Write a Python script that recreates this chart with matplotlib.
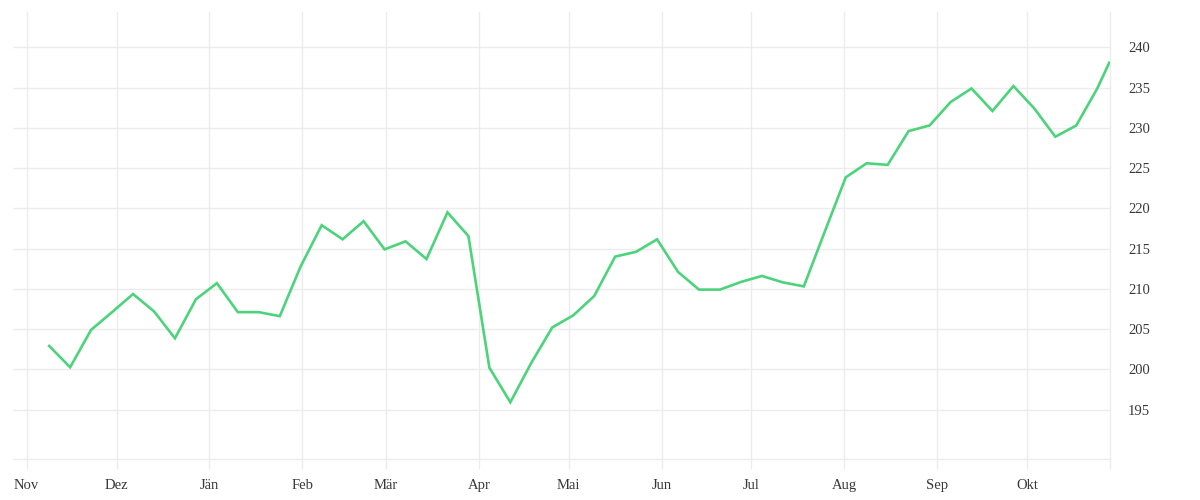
import matplotlib
matplotlib.use("Agg")
import matplotlib.pyplot as plt
import matplotlib.dates as mdates
import pandas as pd

# ---- data ----
dates = list(pd.date_range("2022-11-08 12:00", periods=51, freq="7D")) + [pd.Timestamp("2023-10-28 12:00")]
values = [
    202.9, 200.25, 204.9, 207.1, 209.35, 207.2, 203.85, 208.7, 210.7, 207.1,
    207.1, 206.6, 212.8, 217.9, 216.15, 218.4, 214.9, 215.9, 213.7, 219.5,
    216.55, 200.2, 195.9, 200.8, 205.2, 206.7, 209.1, 214.0, 214.6, 216.15,
    212.1, 209.9, 209.9, 210.85, 211.6, 210.8, 210.3, 217.1, 223.85, 225.6,
    225.4, 229.6, 230.3, 233.2, 234.9, 232.1, 235.2, 232.4, 228.9, 230.3,
    234.9, 238.1,
]
month_ticks = pd.date_range("2022-11-01", "2023-10-01", freq="MS")
month_labels = ["Nov", "Dez", "Jän", "Feb", "Mär", "Apr", "Mai", "Jun", "Jul", "Aug", "Sep", "Okt"]
y_ticks = [195, 200, 205, 210, 215, 220, 225, 230, 235, 240]

GRID = "#ececec"
TEXT = "#383838"
LINE = "#4cd37b"

plt.rcParams["font.family"] = ["Liberation Serif", "DejaVu Serif"]

fig = plt.figure(figsize=(12, 5), dpi=100)
ax = fig.add_axes([13 / 1200, 1 - 459 / 500, (1110 - 13) / 1200, (459 - 12) / 500])

ax.plot(dates, values, color=LINE, linewidth=1.9, solid_joinstyle="miter", zorder=3)

xl = pd.Timestamp("2022-10-27 10:00")
xr = pd.Timestamp("2023-10-28 18:00")
ax.set_xlim(xl, xr)
ax.set_ylim(188.85, 244.4)

ax.set_xticks(month_ticks)
ax.set_xticklabels(month_labels)
ax.set_xticks([xr], minor=True)
ax.set_yticks(y_ticks)
ax.set_yticklabels([str(v) for v in y_ticks])

ax.yaxis.tick_right()
ax.tick_params(axis="y", which="both", length=0, pad=13, labelsize=10.5, labelcolor=TEXT)
ax.tick_params(axis="x", which="both", length=7, width=1, color=GRID, pad=7.5,
               labelsize=10.5, labelcolor=TEXT)

ax.grid(True, which="major", color=GRID, linewidth=1)
for s in ["top", "left"]:
    ax.spines[s].set_visible(False)
ax.spines["bottom"].set_color(GRID)
ax.spines["right"].set_color(GRID)
ax.spines["bottom"].set_linewidth(1)
ax.spines["right"].set_linewidth(1)

fig.savefig("out.png", dpi=100, facecolor="white")
